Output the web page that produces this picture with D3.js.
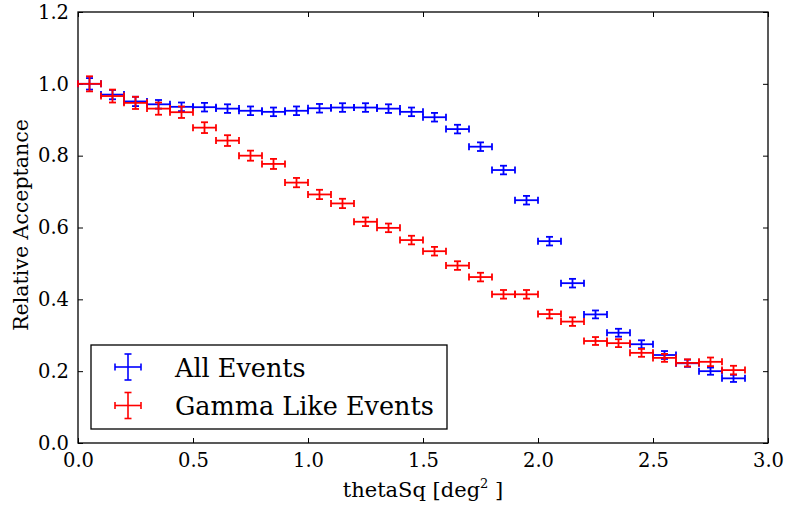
<!DOCTYPE html>
<html>
<head>
<meta charset="utf-8">
<script src="https://cdn.jsdelivr.net/npm/d3@7"></script>
<style>
  body { margin: 0; background: #fff; }
</style>
</head>
<body>
<div id="chart"></div>
<script>
// data -----------------------------------------------------------------
var thetaSq = [0.05, 0.15, 0.25, 0.35, 0.45, 0.55, 0.65, 0.75, 0.85, 0.95,
               1.05, 1.15, 1.25, 1.35, 1.45, 1.55, 1.65, 1.75, 1.85, 1.95,
               2.05, 2.15, 2.25, 2.35, 2.45, 2.55, 2.65, 2.75, 2.85];
var binHalfWidth = 0.05;

var allEvents = [1.000, 0.970, 0.951, 0.943, 0.936, 0.935, 0.931, 0.925, 0.922, 0.925,
                 0.932, 0.934, 0.934, 0.931, 0.922, 0.907, 0.874, 0.825, 0.760, 0.676,
                 0.562, 0.445, 0.358, 0.307, 0.275, 0.245, 0.222, 0.200, 0.180];
var allEventsErr = [0.016, 0.013, 0.013, 0.012, 0.012, 0.012, 0.012, 0.012, 0.012, 0.012,
                    0.012, 0.012, 0.012, 0.012, 0.012, 0.012, 0.012, 0.012, 0.012, 0.012,
                    0.012, 0.012, 0.011, 0.011, 0.011, 0.011, 0.010, 0.010, 0.010];

var gammaLike = [1.000, 0.966, 0.947, 0.931, 0.921, 0.878, 0.842, 0.800, 0.777, 0.725,
                 0.692, 0.667, 0.616, 0.599, 0.565, 0.534, 0.494, 0.462, 0.414, 0.414,
                 0.359, 0.338, 0.284, 0.278, 0.251, 0.237, 0.223, 0.226, 0.203];
var gammaLikeErr = [0.021, 0.018, 0.017, 0.017, 0.016, 0.015, 0.015, 0.014, 0.014, 0.013,
                    0.013, 0.013, 0.012, 0.012, 0.012, 0.012, 0.012, 0.012, 0.012, 0.012,
                    0.012, 0.012, 0.011, 0.011, 0.011, 0.011, 0.010, 0.012, 0.012];

var xTicks = [0.0, 0.5, 1.0, 1.5, 2.0, 2.5, 3.0];
var yTicks = [0.0, 0.2, 0.4, 0.6, 0.8, 1.0, 1.2];

var seriesNames = ["All Events", "Gamma Like Events"];
var seriesColors = ["#0000ff", "#ff0000"];
//-----------------------------------------------------------------------

var fontFam = "'DejaVu Serif', serif";

var screen = { width: 789, height: 510 };
var margin = { top: 12, bottom: 67, left: 78, right: 21 };
var plotW = screen.width - margin.left - margin.right;
var plotH = screen.height - margin.top - margin.bottom;

var xScale = d3.scaleLinear().domain([0, 3]).range([margin.left, margin.left + plotW]);
var yScale = d3.scaleLinear().domain([0, 1.2]).range([margin.top + plotH, margin.top]);

var svg = d3.select("#chart").append("svg")
  .attr("width", screen.width)
  .attr("height", screen.height);

// ticks pointing inward on all four sides (classic style)
var tickLen = 5;
var fmt = d3.format(".1f");

svg.append("g")
  .attr("transform", "translate(0," + (margin.top + plotH) + ")")
  .call(d3.axisBottom(xScale).tickValues(xTicks).tickFormat(fmt).tickSizeInner(-tickLen).tickSizeOuter(0).tickPadding(10))
  .call(function(g){ g.select(".domain").remove(); });
svg.append("g")
  .attr("transform", "translate(0," + margin.top + ")")
  .call(d3.axisTop(xScale).tickValues(xTicks).tickFormat("").tickSizeInner(-tickLen).tickSizeOuter(0))
  .call(function(g){ g.select(".domain").remove(); });
svg.append("g")
  .attr("transform", "translate(" + margin.left + ",0)")
  .call(d3.axisLeft(yScale).tickValues(yTicks).tickFormat(fmt).tickSizeInner(-tickLen).tickSizeOuter(0).tickPadding(9))
  .call(function(g){ g.select(".domain").remove(); });
svg.append("g")
  .attr("transform", "translate(" + (margin.left + plotW) + ",0)")
  .call(d3.axisRight(yScale).tickValues(yTicks).tickFormat("").tickSizeInner(-tickLen).tickSizeOuter(0))
  .call(function(g){ g.select(".domain").remove(); });

svg.selectAll(".tick line").attr("stroke", "#000").attr("stroke-width", 1);
svg.selectAll(".tick text")
  .attr("fill", "#000")
  .style("font-family", fontFam)
  .style("font-size", "19.5px");

// frame
svg.append("rect")
  .attr("x", margin.left)
  .attr("y", margin.top)
  .attr("width", plotW)
  .attr("height", plotH)
  .attr("fill", "none")
  .attr("stroke", "#000")
  .attr("stroke-width", 1.3);

// error bars
var capPx = 3.5;
var drawErrorBars = function(values, errs, color){
  var g = svg.append("g").attr("stroke", color).attr("stroke-width", 1.8).attr("fill", "none");
  thetaSq.forEach(function(x, i){
    var cy = yScale(values[i]);
    var cx = xScale(x);
    var x0 = xScale(x - binHalfWidth), x1 = xScale(x + binHalfWidth);
    var y0 = yScale(values[i] - errs[i]), y1 = yScale(values[i] + errs[i]);
    var p = g.append("g");
    // horizontal bin width
    p.append("line").attr("x1", x0).attr("x2", x1).attr("y1", cy).attr("y2", cy);
    p.append("line").attr("x1", x0).attr("x2", x0).attr("y1", cy - capPx).attr("y2", cy + capPx);
    p.append("line").attr("x1", x1).attr("x2", x1).attr("y1", cy - capPx).attr("y2", cy + capPx);
    // vertical error
    p.append("line").attr("x1", cx).attr("x2", cx).attr("y1", y0).attr("y2", y1);
    p.append("line").attr("x1", cx - capPx).attr("x2", cx + capPx).attr("y1", y0).attr("y2", y0);
    p.append("line").attr("x1", cx - capPx).attr("x2", cx + capPx).attr("y1", y1).attr("y2", y1);
  });
};
drawErrorBars(allEvents, allEventsErr, seriesColors[0]);
drawErrorBars(gammaLike, gammaLikeErr, seriesColors[1]);

// legend
var legend = svg.append("g").attr("transform", "translate(91,345)");
legend.append("rect")
  .attr("width", 356).attr("height", 84)
  .attr("fill", "#fff").attr("stroke", "#000").attr("stroke-width", 1.3);
seriesNames.forEach(function(name, i){
  var cy = 22 + i * 38.5, cx = 37;
  var h = legend.append("g").attr("stroke", seriesColors[i]).attr("stroke-width", 1.6);
  h.append("line").attr("x1", cx - 13).attr("x2", cx + 13).attr("y1", cy).attr("y2", cy);
  h.append("line").attr("x1", cx - 13).attr("x2", cx - 13).attr("y1", cy - capPx).attr("y2", cy + capPx);
  h.append("line").attr("x1", cx + 13).attr("x2", cx + 13).attr("y1", cy - capPx).attr("y2", cy + capPx);
  h.append("line").attr("x1", cx).attr("x2", cx).attr("y1", cy - 13).attr("y2", cy + 13);
  h.append("line").attr("x1", cx - capPx).attr("x2", cx + capPx).attr("y1", cy - 13).attr("y2", cy - 13);
  h.append("line").attr("x1", cx - capPx).attr("x2", cx + capPx).attr("y1", cy + 13).attr("y2", cy + 13);
  legend.append("text")
    .attr("x", 84).attr("y", cy + 9.5)
    .style("font-family", fontFam)
    .style("font-size", "25.5px")
    .text(name);
});

// axis labels
var xLabel = svg.append("text")
  .attr("x", margin.left + plotW / 2)
  .attr("y", 497)
  .attr("text-anchor", "middle")
  .style("font-family", fontFam)
  .style("font-size", "21px");
xLabel.append("tspan").text("thetaSq [deg");
xLabel.append("tspan").attr("dy", -9).style("font-size", "13px").text("2");
xLabel.append("tspan").attr("dy", 9).text(" ]");

svg.append("text")
  .attr("transform", "translate(28,225) rotate(-90)")
  .attr("text-anchor", "middle")
  .style("font-family", fontFam)
  .style("font-size", "20.5px")
  .text("Relative Acceptance");
</script>
</body>
</html>
